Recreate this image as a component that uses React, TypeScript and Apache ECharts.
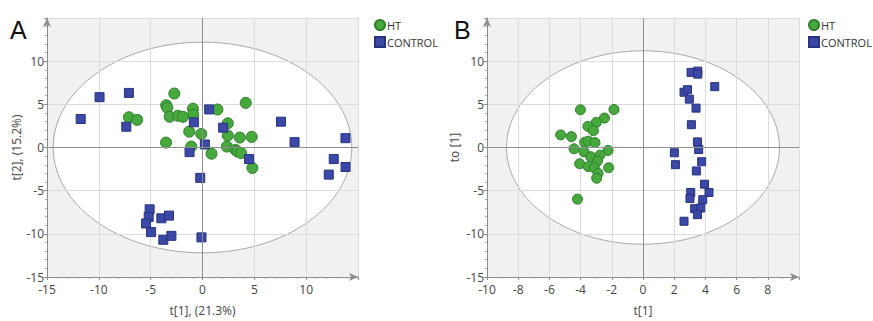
import React, { useEffect, useRef } from "react";
import * as echarts from "echarts";

// Panel A: PCA scores t[1] vs t[2]
const htA: [number, number][] = [
  [-2.72, 6.25], [-3.5, 4.9], [-3.4, 4.6], [-0.92, 4.5], [-0.9, 3.8], [1.44, 4.4],
  [4.17, 5.17], [-7.1, 3.5], [-6.3, 3.2], [-3.17, 3.56], [-2.37, 3.68], [-1.88, 3.56],
  [2.44, 2.8], [-1.28, 1.84], [-0.12, 1.57], [2.44, 1.38], [3.6, 1.15], [4.75, 1.23],
  [-3.52, 0.57], [-1.09, 0.11], [2.35, 0.11], [3.17, -0.27], [3.37, -0.46], [3.72, -0.65],
  [0.87, -0.72], [4.81, -2.37],
];
const controlA: [number, number][] = [
  [-11.75, 3.3], [-9.93, 5.83], [-7.1, 6.32], [-7.35, 2.41], [0.64, 4.41], [-0.83, 2.92],
  [1.99, 2.3], [7.57, 2.99], [8.88, 0.62], [13.79, 1.08], [0.23, 0.35], [-1.25, -0.53],
  [4.49, -1.34], [12.66, -1.34], [13.8, -2.26], [12.18, -3.14], [-0.22, -3.52],
  [-5.1, -7.16], [-5.19, -8.05], [-5.44, -8.8], [-4.96, -9.8], [-3.97, -8.2], [-3.23, -7.89],
  [-3.78, -10.69], [-3.0, -10.23], [-0.1, -10.41],
];
// Panel B: OPLS-DA scores t[1] vs to[1]
const htB: [number, number][] = [
  [-4.01, 4.37], [-1.86, 4.4], [-2.47, 3.41], [-2.99, 2.91], [-3.53, 2.45], [-3.18, 1.95],
  [-5.28, 1.46], [-4.59, 1.26], [-3.74, 0.61], [-3.5, 0.73], [-3.08, 0.57], [-4.42, -0.15],
  [-3.78, -0.5], [-2.24, -0.34], [-3.35, -1.07], [-2.76, -0.88], [-2.92, -1.57], [-4.06, -1.88],
  [-3.5, -2.22], [-3.12, -2.34], [-2.2, -2.34], [-2.88, -2.99], [-2.97, -3.56], [-4.2, -5.98],
];
const controlB: [number, number][] = [
  [3.08, 8.7], [3.51, 8.85], [3.51, 8.5], [4.6, 7.05], [2.63, 6.4], [2.85, 6.7], [2.97, 5.6],
  [3.4, 4.56], [3.1, 2.64], [3.49, 0.65], [3.57, -0.23], [2.01, -0.61], [2.08, -1.99],
  [3.76, -1.65], [3.42, -2.72], [3.94, -4.25], [4.23, -5.21], [3.06, -5.21], [3.01, -5.9],
  [3.83, -6.05], [3.31, -7.09], [3.7, -7.01], [3.49, -7.78], [2.63, -8.54],
];
// Hotelling T2 ellipse semi-axes [x, y]
const ellipseA: [number, number] = [14.4, 12.2];
const ellipseB: [number, number] = [8.75, 11.2];

const xRangeA = { min: -15, max: 15, interval: 5 };
const xRangeB = { min: -10, max: 10, interval: 2 };
const yRange = { min: -15, max: 15, interval: 5 };

const xNameA = "t[1], (21.3%)";
const yNameA = "t[2], (15.2%)";
const xNameB = "t[1]";
const yNameB = "to [1]";
const seriesNames = ["HT", "CONTROL"];

const FONT = "'Open Sans', 'DejaVu Sans', sans-serif";
const GREEN = "#46a83d";
const GREEN_B = "#2e7f2a";
const BLUE = "#3b48a6";
const BLUE_B = "#27337f";

function axis(kind: "x" | "y", idx: number, range: any, name: string) {
  const maxVal = range.max;
  return {
    type: "value",
    gridIndex: idx,
    min: range.min,
    max: range.max,
    interval: range.interval,
    name,
    nameLocation: "middle",
    nameGap: kind === "x" ? 27 : idx === 0 ? 25 : 27,
    nameTextStyle: { color: "#444", fontSize: 12, fontFamily: FONT },
    axisLine: {
      show: true,
      onZero: false,
      symbol: ["none", "arrow"],
      symbolSize: [6, 9],
      lineStyle: { color: "#8c8c8c", width: 1 },
    },
    axisTick: { show: true, length: 3, lineStyle: { color: "#8c8c8c" } },
    minorTick: { show: true, splitNumber: kind === "x" && idx === 1 ? 2 : 5, length: 2, lineStyle: { color: "#b0b0b0" } },
    axisLabel: {
      color: "#444",
      fontSize: 12,
      fontFamily: FONT,
      margin: kind === "x" ? 6 : 3,
      formatter: (v: number) => (v === maxVal ? "" : String(v)),
    },
    splitLine: { show: true, lineStyle: { color: "#dcdcdc", width: 1 } },
  };
}

function background(idx: number, ell: [number, number]) {
  return {
    type: "custom",
    xAxisIndex: idx,
    yAxisIndex: idx,
    z: -1,
    silent: true,
    clip: false,
    data: [ell],
    renderItem: (params: any, api: any) => {
      const cs = params.coordSys;
      const c = api.coord([0, 0]);
      const s = api.size([api.value(0), api.value(1)]);
      return {
        type: "group",
        children: [
          { type: "rect", shape: { x: cs.x, y: cs.y, width: cs.width, height: cs.height }, style: { fill: "#f1f1f1" } },
          { type: "ellipse", shape: { cx: c[0], cy: c[1], rx: s[0], ry: s[1] }, style: { fill: "#ffffff", stroke: "#a9a9a9", lineWidth: 1 } },
        ],
      };
    },
  };
}

function zeroLines(idx: number) {
  return {
    type: "line",
    xAxisIndex: idx,
    yAxisIndex: idx,
    data: [],
    z: 1,
    silent: true,
    markLine: {
      silent: true,
      symbol: "none",
      label: { show: false },
      lineStyle: { color: "#8f8f8f", type: "solid", width: 1 },
      data: [{ xAxis: 0 }, { yAxis: 0 }],
    },
  };
}

function scatter(idx: number, name: string, data: [number, number][], circle: boolean, size: number) {
  return {
    type: "scatter",
    name,
    xAxisIndex: idx,
    yAxisIndex: idx,
    data,
    symbol: circle ? "circle" : "rect",
    symbolSize: size,
    z: 3,
    itemStyle: {
      color: circle ? GREEN : BLUE,
      borderColor: circle ? GREEN_B : BLUE_B,
      borderWidth: 1,
      opacity: 1,
    },
  };
}

function legend(left: number) {
  return {
    left,
    top: 14,
    orient: "vertical",
    itemGap: 5,
    itemWidth: 10,
    itemHeight: 10,
    textStyle: { color: "#333", fontSize: 11, fontFamily: FONT, padding: [0, 0, 0, -3] },
    data: [
      { name: seriesNames[0], icon: "circle" },
      { name: seriesNames[1], icon: "rect" },
    ],
  };
}

export default function App() {
  const ref = useRef<HTMLDivElement>(null);
  useEffect(() => {
    document.body.style.margin = "0";
    const chart = echarts.init(ref.current!, null, { renderer: "svg" });
    chart.setOption({
      animation: false,
      backgroundColor: "#ffffff",
      grid: [
        { left: 47, top: 18, width: 311, height: 261 },
        { left: 487, top: 18, width: 312, height: 262 },
      ],
      xAxis: [axis("x", 0, xRangeA, xNameA), axis("x", 1, xRangeB, xNameB)],
      yAxis: [axis("y", 0, yRange, yNameA), axis("y", 1, yRange, yNameB)],
      legend: [legend(369), legend(803)],
      graphic: [
        { type: "text", left: 10, top: 17, style: { text: "A", fontSize: 25, fontFamily: "'Liberation Sans', Arial, sans-serif", fill: "#111" } },
        { type: "text", left: 454, top: 17, style: { text: "B", fontSize: 25, fontFamily: "'Liberation Sans', Arial, sans-serif", fill: "#111" } },
      ],
      series: [
        background(0, ellipseA),
        background(1, ellipseB),
        zeroLines(0),
        zeroLines(1),
        scatter(0, seriesNames[0], htA, true, 11),
        scatter(0, seriesNames[1], controlA, false, 9),
        scatter(1, seriesNames[0], htB, true, 10),
        scatter(1, seriesNames[1], controlB, false, 8),
      ],
    });
    return () => chart.dispose();
  }, []);
  return <div ref={ref} style={{ width: 873, height: 321 }} />;
}
